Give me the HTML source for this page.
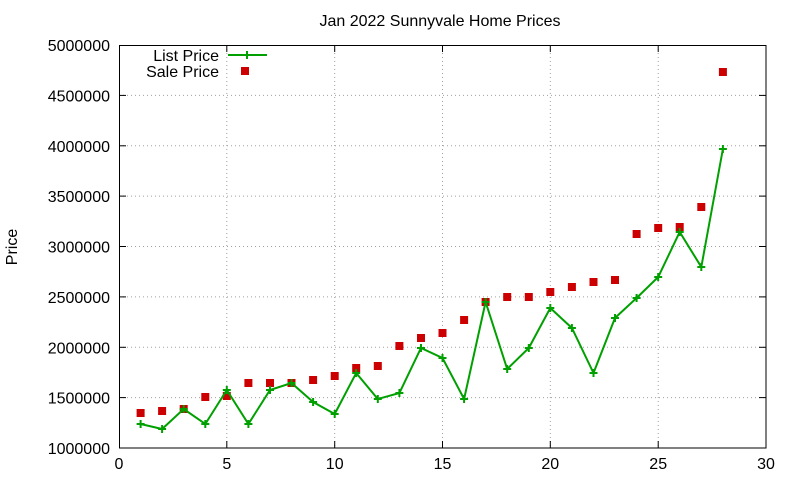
<!DOCTYPE html>
<html><head><meta charset="utf-8"><style>body{margin:0;background:#fff}svg{display:block}text{font-family:"Liberation Sans",sans-serif;font-size:16px;fill:#000}</style></head><body>
<svg width="800" height="480" xmlns="http://www.w3.org/2000/svg">
<rect width="800" height="480" fill="#fff"/>
<g stroke="#a0a0a0" stroke-width="1" stroke-dasharray="1,3">
<line x1="226.8" y1="45" x2="226.8" y2="448"/><line x1="334.7" y1="45" x2="334.7" y2="448"/><line x1="442.5" y1="45" x2="442.5" y2="448"/><line x1="550.3" y1="45" x2="550.3" y2="448"/><line x1="658.2" y1="45" x2="658.2" y2="448"/>
<line x1="119" y1="397.6" x2="766" y2="397.6"/><line x1="119" y1="347.3" x2="766" y2="347.3"/><line x1="119" y1="296.9" x2="766" y2="296.9"/><line x1="119" y1="246.5" x2="766" y2="246.5"/><line x1="119" y1="196.1" x2="766" y2="196.1"/><line x1="119" y1="145.8" x2="766" y2="145.8"/><line x1="119" y1="95.4" x2="766" y2="95.4"/>
</g>
<rect x="119.5" y="45.5" width="646.5" height="402.5" fill="none" stroke="#000"/>
<g stroke="#000">
<line x1="226.8" y1="448" x2="226.8" y2="441"/><line x1="334.7" y1="448" x2="334.7" y2="441"/><line x1="442.5" y1="448" x2="442.5" y2="441"/><line x1="550.3" y1="448" x2="550.3" y2="441"/><line x1="658.2" y1="448" x2="658.2" y2="441"/>
<line x1="226.8" y1="45" x2="226.8" y2="52"/><line x1="334.7" y1="45" x2="334.7" y2="52"/><line x1="442.5" y1="45" x2="442.5" y2="52"/><line x1="550.3" y1="45" x2="550.3" y2="52"/><line x1="658.2" y1="45" x2="658.2" y2="52"/>
<line x1="119" y1="397.6" x2="126" y2="397.6"/><line x1="119" y1="347.3" x2="126" y2="347.3"/><line x1="119" y1="296.9" x2="126" y2="296.9"/><line x1="119" y1="246.5" x2="126" y2="246.5"/><line x1="119" y1="196.1" x2="126" y2="196.1"/><line x1="119" y1="145.8" x2="126" y2="145.8"/><line x1="119" y1="95.4" x2="126" y2="95.4"/>
<line x1="766" y1="397.6" x2="759" y2="397.6"/><line x1="766" y1="347.3" x2="759" y2="347.3"/><line x1="766" y1="296.9" x2="759" y2="296.9"/><line x1="766" y1="246.5" x2="759" y2="246.5"/><line x1="766" y1="196.1" x2="759" y2="196.1"/><line x1="766" y1="145.8" x2="759" y2="145.8"/><line x1="766" y1="95.4" x2="759" y2="95.4"/>
</g>
<g text-anchor="middle">
<text x="119" y="469">0</text><text x="226.8" y="469">5</text><text x="334.7" y="469">10</text><text x="442.5" y="469">15</text><text x="550.3" y="469">20</text><text x="658.2" y="469">25</text><text x="766" y="469">30</text>
<text x="440" y="26">Jan 2022 Sunnyvale Home Prices</text>
<text x="17" y="247" transform="rotate(-90 17 247)">Price</text>
</g>
<g text-anchor="end">
<text x="110" y="454">1000000</text><text x="110" y="403.6">1500000</text><text x="110" y="353.3">2000000</text><text x="110" y="302.9">2500000</text><text x="110" y="252.5">3000000</text><text x="110" y="202.1">3500000</text><text x="110" y="151.8">4000000</text><text x="110" y="101.4">4500000</text><text x="110" y="51">5000000</text>
<text x="219" y="61">List Price</text><text x="219" y="77">Sale Price</text>
</g>
<g fill="#cc0000">
<rect x="136.6" y="409" width="8" height="8"/><rect x="158.1" y="407" width="8" height="8"/><rect x="179.7" y="405" width="8" height="8"/><rect x="201.3" y="393" width="8" height="8"/><rect x="222.8" y="392" width="8" height="8"/><rect x="244.4" y="379" width="8" height="8"/><rect x="266" y="379" width="8" height="8"/><rect x="287.5" y="379" width="8" height="8"/><rect x="309.1" y="376" width="8" height="8"/><rect x="330.7" y="372" width="8" height="8"/><rect x="352.2" y="364" width="8" height="8"/><rect x="373.8" y="362" width="8" height="8"/><rect x="395.4" y="342" width="8" height="8"/><rect x="417" y="334" width="8" height="8"/><rect x="438.5" y="329" width="8" height="8"/><rect x="460.1" y="316" width="8" height="8"/><rect x="481.6" y="298" width="8" height="8"/><rect x="503.2" y="293" width="8" height="8"/><rect x="524.8" y="293" width="8" height="8"/><rect x="546.3" y="288" width="8" height="8"/><rect x="567.9" y="283" width="8" height="8"/><rect x="589.5" y="278" width="8" height="8"/><rect x="611" y="276" width="8" height="8"/><rect x="632.6" y="230" width="8" height="8"/><rect x="654.2" y="224" width="8" height="8"/><rect x="675.7" y="223" width="8" height="8"/><rect x="697.3" y="203" width="8" height="8"/><rect x="718.9" y="68" width="8" height="8"/>
<rect x="241" y="67" width="8" height="8"/>
</g>
<polyline fill="none" stroke="#00a000" stroke-width="2" points="140.6,424 162.1,429 183.7,409 205.3,424 226.8,390 248.4,424 270,390 291.5,383 313.1,402 334.7,414 356.2,373 377.8,399 399.4,393 421,348 442.5,358 464.1,399 485.6,302 507.2,369 528.8,348 550.3,308 571.9,328 593.5,373 615,318 636.6,298 658.2,277 679.7,232 701.3,267 722.9,149"/>
<line x1="228" y1="55" x2="267" y2="55" stroke="#00a000" stroke-width="2"/>
<path stroke="#00a000" stroke-width="2" fill="none" d="M136.6,424h8M140.6,420v8M158.1,429h8M162.1,425v8M179.7,409h8M183.7,405v8M201.3,424h8M205.3,420v8M222.8,390h8M226.8,386v8M244.4,424h8M248.4,420v8M266,390h8M270,386v8M287.5,383h8M291.5,379v8M309.1,402h8M313.1,398v8M330.7,414h8M334.7,410v8M352.2,373h8M356.2,369v8M373.8,399h8M377.8,395v8M395.4,393h8M399.4,389v8M417,348h8M421,344v8M438.5,358h8M442.5,354v8M460.1,399h8M464.1,395v8M481.6,302h8M485.6,298v8M503.2,369h8M507.2,365v8M524.8,348h8M528.8,344v8M546.3,308h8M550.3,304v8M567.9,328h8M571.9,324v8M589.5,373h8M593.5,369v8M611,318h8M615,314v8M632.6,298h8M636.6,294v8M654.2,277h8M658.2,273v8M675.7,232h8M679.7,228v8M697.3,267h8M701.3,263v8M718.9,149h8M722.9,145v8M243,55h8M247,51v8"/>
</svg>
</body></html>
